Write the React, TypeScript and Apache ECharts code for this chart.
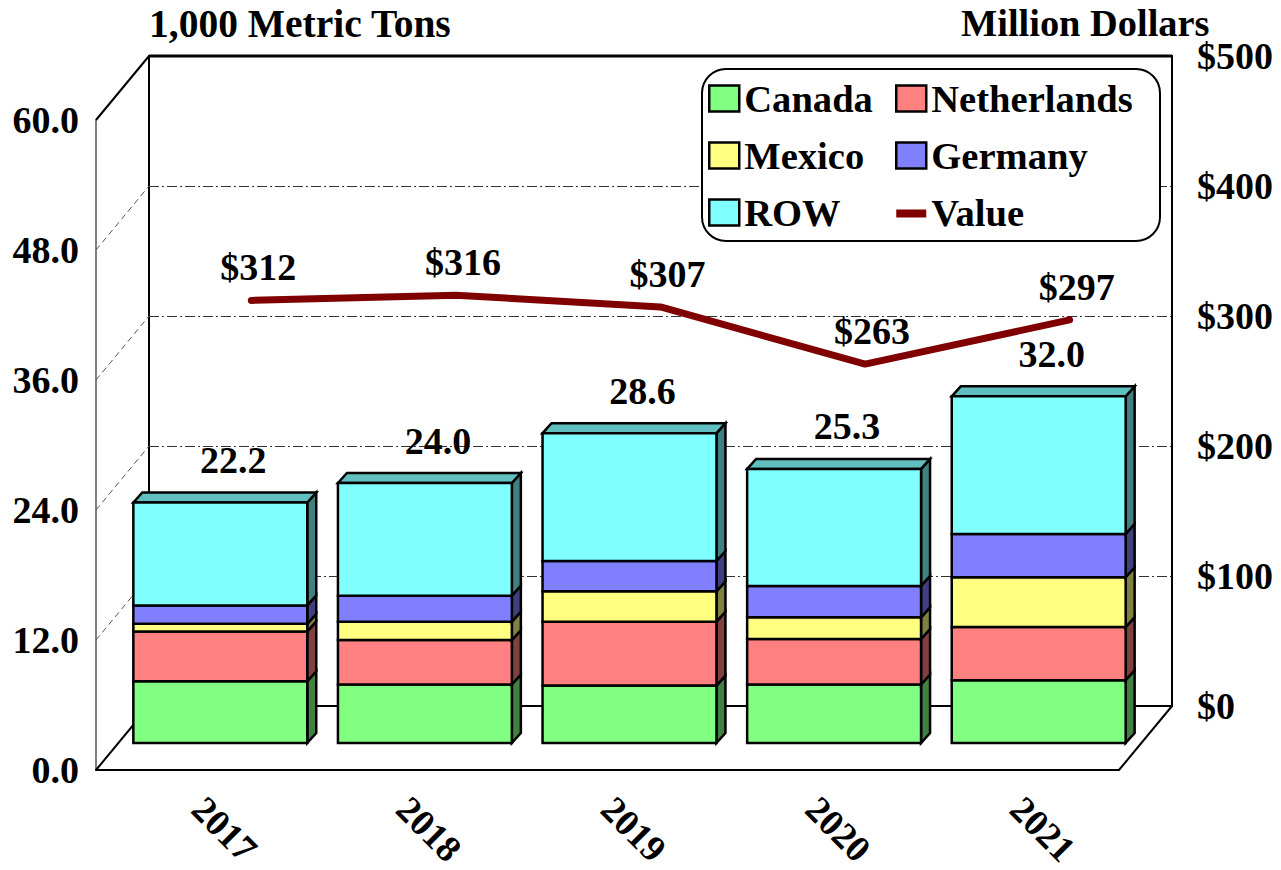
import React, { useEffect, useRef } from "react";
import * as echarts from "echarts";

const years = ["2017", "2018", "2019", "2020", "2021"];
const canada = [5.7, 5.4, 5.3, 5.4, 5.8];
const netherlands = [4.6, 4.1, 5.9, 4.2, 4.9];
const mexico = [0.7, 1.7, 2.8, 2.0, 4.6];
const germany = [1.7, 2.4, 2.8, 2.9, 4.0];
const row = [9.5, 10.4, 11.8, 10.8, 12.7];
const totals = [22.2, 24.0, 28.6, 25.3, 32.0];
const value = [312, 316, 307, 263, 297];
const leftTicks = [0, 12, 24, 36, 48, 60];

const FONT = "'Liberation Serif', 'Times New Roman', serif";
const DEPTH_X = 53;
const DEPTH_Y = 64;
const SHIFT_X = 22;
const SHIFT_Y = 27;
const BAR_DX = 9;
const BAR_DY = 10;

const stacks = [
  { name: "Canada", values: canada, front: "#80FF80", side: "#408040" },
  { name: "Netherlands", values: netherlands, front: "#FF8080", side: "#804040" },
  { name: "Mexico", values: mexico, front: "#FFFF80", side: "#808040" },
  { name: "Germany", values: germany, front: "#8080FF", side: "#404080" },
  { name: "ROW", values: row, front: "#80FFFF", side: "#408080", top: "#60C0C0" },
];

function barSeries() {
  const base = years.map(() => 0);
  return stacks.map((s) => {
    const data = s.values.map((v, i) => {
      const d = [i, base[i], base[i] + v];
      base[i] += v;
      return d;
    });
    return {
      type: "custom",
      name: s.name,
      xAxisIndex: 0,
      yAxisIndex: 0,
      z: 3,
      itemStyle: { color: s.front },
      encode: { x: 0, y: 2 },
      data,
      renderItem: (_p: any, api: any) => {
        const idx = api.value(0);
        const low = api.coord([idx, api.value(1)]);
        const high = api.coord([idx, api.value(2)]);
        const w = api.size([1, 0])[0] * 0.85;
        const x0 = low[0] + SHIFT_X - w / 2;
        const x1 = x0 + w;
        const y0 = low[1] - SHIFT_Y;
        const y1 = high[1] - SHIFT_Y;
        const edge = { stroke: "#000", lineWidth: 2.5 };
        const kids: any[] = [
          {
            type: "polygon",
            shape: { points: [[x1, y0], [x1 + BAR_DX, y0 - BAR_DY], [x1 + BAR_DX, y1 - BAR_DY], [x1, y1]] },
            style: { fill: s.side, ...edge },
          },
        ];
        if (s.top) {
          kids.push({
            type: "polygon",
            shape: { points: [[x0, y1], [x0 + BAR_DX, y1 - BAR_DY], [x1 + BAR_DX, y1 - BAR_DY], [x1, y1]] },
            style: { fill: s.top, ...edge },
          });
        }
        kids.push({
          type: "rect",
          shape: { x: x0, y: y1, width: w, height: y0 - y1 },
          style: { fill: s.front, ...edge },
        });
        return { type: "group", children: kids };
      },
    };
  });
}

function legendBase(left: number, names: any[]) {
  return {
    orient: "vertical",
    left,
    top: 74,
    z: 8,
    itemWidth: 30,
    itemHeight: 26,
    itemGap: 18,
    selectedMode: false,
    textStyle: { fontFamily: FONT, fontWeight: "bold", fontSize: 38.6, lineHeight: 39, color: "#000" },
    data: names,
  };
}

const swatch = (name: string, color: string) => ({
  name,
  icon: "rect",
  itemStyle: { color, borderColor: "#000", borderWidth: 2.5 },
});

export default function App() {
  const ref = useRef<HTMLDivElement>(null);
  useEffect(() => {
    const chart = echarts.init(ref.current!, undefined, { renderer: "svg" });
    const axisText = { fontFamily: FONT, fontWeight: "bold", fontSize: 38, color: "#000" };
    chart.setOption({
      animation: false,
      backgroundColor: "#fff",
      title: [
        { text: "1,000 Metric Tons", left: 144, top: -1, textStyle: { ...axisText, fontSize: 39.5 } },
        { text: "Million Dollars", left: 956, top: -1, textStyle: { ...axisText, fontSize: 38.4 } },
      ],
      grid: [
        { left: 96, top: 120, width: 1023, height: 650, outerBoundsMode: "none" },
        { left: 149, top: 56, width: 1023, height: 650, outerBoundsMode: "none", show: true, borderColor: "#000", borderWidth: 2, backgroundColor: "transparent" },
      ],
      xAxis: [
        {
          type: "category",
          gridIndex: 0,
          data: years,
          axisTick: { show: false },
          axisLine: { lineStyle: { color: "#000", width: 2 } },
          axisLabel: { ...axisText, fontSize: 37, lineHeight: 24, rotate: -45, interval: 0, margin: 33 },
        },
        {
          type: "category",
          gridIndex: 1,
          data: years,
          axisTick: { show: false },
          axisLabel: { show: false },
          axisLine: { lineStyle: { color: "#000", width: 2 } },
        },
      ],
      yAxis: [
        {
          type: "value",
          gridIndex: 0,
          min: 0,
          max: 60,
          interval: 12,
          axisTick: { show: false },
          splitLine: { show: false },
          axisLine: { show: true, lineStyle: { color: "#808080", width: 2 } },
          axisLabel: { ...axisText, margin: 17, formatter: (v: number) => v.toFixed(1) },
        },
        {
          type: "value",
          gridIndex: 1,
          position: "right",
          min: 0,
          max: 500,
          interval: 100,
          axisTick: { show: false },
          axisLine: { show: true, lineStyle: { color: "#000", width: 2 } },
          splitLine: { show: true, lineStyle: { color: "#333", width: 1, type: [10, 3, 2, 3] } },
          axisLabel: { ...axisText, margin: 25, formatter: (v: number) => "$" + v },
        },
      ],
      legend: [
        legendBase(703, [swatch("Canada", "#80FF80"), swatch("Mexico", "#FFFF80"), swatch("ROW", "#80FFFF")]),
        legendBase(890, [
          swatch("Netherlands", "#FF8080"),
          swatch("Germany", "#8080FF"),
          { name: "Value", icon: "path://M0 0ZM0 10H30V18H0ZM30 26Z", itemStyle: { color: "#800000", borderWidth: 0 } },
        ]),
      ],
      graphic: [
        {
          type: "rect",
          z: 5,
          shape: { x: 702, y: 69, width: 458, height: 172, r: 24 },
          style: { fill: "#fff", stroke: "#000", lineWidth: 2 },
        },
      ],
      series: [
        {
          type: "custom",
          name: "Frame",
          xAxisIndex: 0,
          yAxisIndex: 0,
          z: 1,
          silent: true,
          data: leftTicks.map((t) => [0, t]),
          encode: { y: 1 },
          renderItem: (p: any, api: any) => {
            const t = api.value(1);
            const pt = api.coord([0, t]);
            const x = p.coordSys.x;
            const edgeLine = t === 0 || t === 60;
            const kids: any[] = [
              {
                type: "line",
                shape: { x1: x, y1: pt[1], x2: x + DEPTH_X, y2: pt[1] - DEPTH_Y },
                style: edgeLine
                  ? { stroke: "#000", lineWidth: 2 }
                  : { stroke: "#555", lineWidth: 1, lineDash: [6, 4] },
              },
            ];
            if (t === 0) {
              const xr = x + p.coordSys.width;
              kids.push({
                type: "line",
                shape: { x1: xr, y1: pt[1], x2: xr + DEPTH_X, y2: pt[1] - DEPTH_Y },
                style: { stroke: "#000", lineWidth: 2 },
              });
            }
            if (t === 60) {
              kids.push({
                type: "line",
                shape: { x1: x + DEPTH_X, y1: pt[1] - DEPTH_Y, x2: x + DEPTH_X + p.coordSys.width, y2: pt[1] - DEPTH_Y },
                style: { stroke: "#000", lineWidth: 3 },
              });
            }
            return { type: "group", children: kids };
          },
        },
        ...barSeries(),
        {
          type: "custom",
          name: "Total",
          xAxisIndex: 0,
          yAxisIndex: 0,
          z: 4,
          silent: true,
          data: totals.map((t, i) => [i, t]),
          encode: { x: 0, y: 1 },
          renderItem: (_p: any, api: any) => {
            const pt = api.coord([api.value(0), api.value(1)]);
            return {
              type: "text",
              style: {
                text: api.value(1).toFixed(1),
                x: pt[0] + SHIFT_X + 13,
                y: pt[1] - SHIFT_Y - 42.5,
                align: "center",
                verticalAlign: "middle",
                fontFamily: FONT,
                fontWeight: "bold",
                fontSize: 38,
                fill: "#000",
              },
            };
          },
        },
        {
          type: "line",
          name: "Value",
          xAxisIndex: 1,
          yAxisIndex: 1,
          z: 4,
          data: value,
          showSymbol: true,
          showAllSymbol: true,
          symbol: "circle",
          symbolSize: 1,
          lineStyle: { color: "#800000", width: 7, cap: "round" },
          itemStyle: { color: "#800000" },
          label: {
            show: true,
            position: "top",
            distance: 13.5,
            offset: [7, 0],
            ...axisText,
            formatter: (p: any) => "$" + p.value,
          },
        },
      ],
    });
    return () => chart.dispose();
  }, []);
  return <div ref={ref} style={{ position: "absolute", left: 0, top: 0, width: 1281, height: 870 }} />;
}
